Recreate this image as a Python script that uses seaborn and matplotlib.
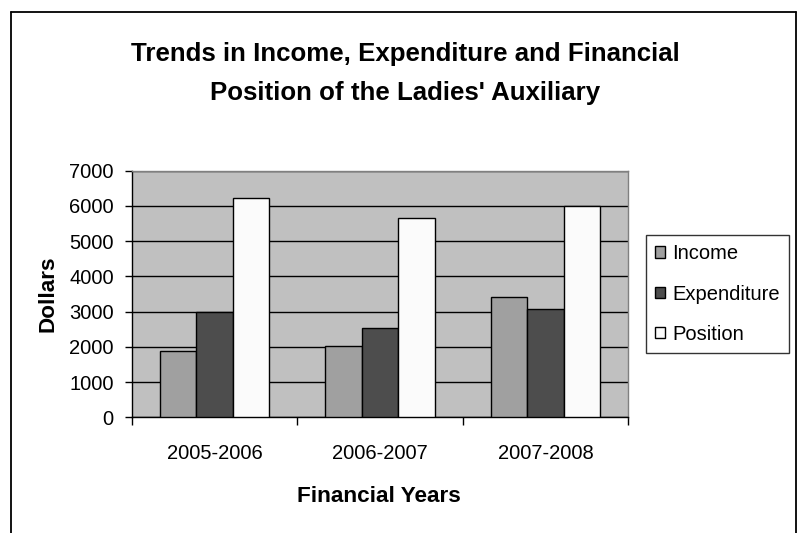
import pandas as pd
import numpy as np
import matplotlib
matplotlib.use("Agg")
import matplotlib.pyplot as plt
import seaborn as sns
from matplotlib.lines import Line2D

# ==================== DATA ====================
years = ["2005-2006", "2006-2007", "2007-2008"]
income = [1870, 2030, 3425]
expenditure = [2980, 2545, 3085]
position = [6230, 5670, 6010]
series = ["Income", "Expenditure", "Position"]
colors = ["#A0A0A0", "#4D4D4D", "#FBFBFB"]

df = pd.DataFrame({
    "Year": years * 3,
    "Series": [s for s in series for _ in years],
    "Dollars": income + expenditure + position,
})

# ==================== STYLE ====================
sns.set_style("white")
plt.rcParams["font.family"] = ["Liberation Sans", "DejaVu Sans"]
plt.rcParams["text.color"] = "black"
plt.rcParams["axes.labelcolor"] = "black"
plt.rcParams["xtick.color"] = "black"
plt.rcParams["ytick.color"] = "black"

W, H = 800, 533
fig = plt.figure(figsize=(8, 5.33), dpi=100)
fig.patch.set_facecolor("white")

# plot area in pixels: x 131.7-628.3, y 170.7-417.3
ax = fig.add_axes([131.7 / W, 1 - 417.3 / H, (628.3 - 131.7) / W, (417.3 - 170.7) / H])
ax.set_facecolor("#C0C0C0")

sns.barplot(data=df, x="Year", y="Dollars", hue="Series", hue_order=series,
            palette=colors, width=0.66, gap=0, edgecolor="black", linewidth=1,
            saturation=1, errorbar=None, ax=ax, zorder=3)

ax.set_ylim(0, 7000)
ax.set_xlim(-0.5, 2.5)
ax.set_yticks(np.arange(0, 7001, 1000))
ax.yaxis.grid(True, color="black", linewidth=1)
ax.xaxis.grid(False)
ax.set_axisbelow(True)

# ticks
ax.tick_params(axis="y", which="major", direction="out", length=5, width=1,
               color="black", pad=8, labelsize=14.5, left=True)
ax.set_xticks([0, 1, 2])
ax.set_xticks([-0.5, 0.5, 1.5, 2.5], minor=True)
ax.tick_params(axis="x", which="major", length=0, pad=19.5, labelsize=14.5)
ax.tick_params(axis="x", which="minor", direction="out", length=6, width=1,
               color="black", bottom=True)

for s in ["left", "bottom"]:
    ax.spines[s].set_color("black")
    ax.spines[s].set_linewidth(1)
for s in ["top", "right"]:
    ax.spines[s].set_color("#808080")
    ax.spines[s].set_linewidth(1)

# axis labels
ax.set_xlabel("Financial Years", fontsize=16.2, fontweight="bold")
ax.set_ylabel("Dollars", fontsize=16.2, fontweight="bold")
ax.xaxis.label.set_va("center")
ax.yaxis.label.set_va("center")
ax.xaxis.set_label_coords((379 - 131.7) / (628.3 - 131.7), (417.3 - 497) / (417.3 - 170.7))
ax.yaxis.set_label_coords((48 - 131.7) / (628.3 - 131.7), 0.5)

# title
fig.text(405 / W, 1 - 61 / H, "Trends in Income, Expenditure and Financial",
         ha="center", va="baseline", fontsize=18.6, fontweight="bold")
fig.text(405 / W, 1 - 100 / H, "Position of the Ladies' Auxiliary",
         ha="center", va="baseline", fontsize=18.6, fontweight="bold")

# legend
handles, labels = ax.get_legend_handles_labels()
if ax.get_legend() is not None:
    ax.get_legend().remove()
leg = ax.legend(handles, labels, loc="center left",
                bbox_to_anchor=(646 / W, 1 - 294 / H), bbox_transform=fig.transFigure,
                frameon=True, fancybox=False, edgecolor="black", facecolor="white",
                fontsize=14.5, handlelength=0.5, handleheight=0.5, handletextpad=0.35,
                labelspacing=1.05, borderpad=0.45, borderaxespad=0)
leg.get_frame().set_linewidth(1)
for h in leg.legend_handles:
    h.set_edgecolor("black")
    h.set_linewidth(1)

# outer chart frame (no bottom edge)
fx0, fx1, fy = 11 / W, 796 / W, 1 - 12 / H
for xs, ys in [([fx0, fx0], [0, fy]), ([fx0, fx1], [fy, fy]), ([fx1, fx1], [fy, 0])]:
    fig.add_artist(Line2D(xs, ys, transform=fig.transFigure, color="black", linewidth=1.3))

plt.savefig("out.png", dpi=100)
plt.close()
